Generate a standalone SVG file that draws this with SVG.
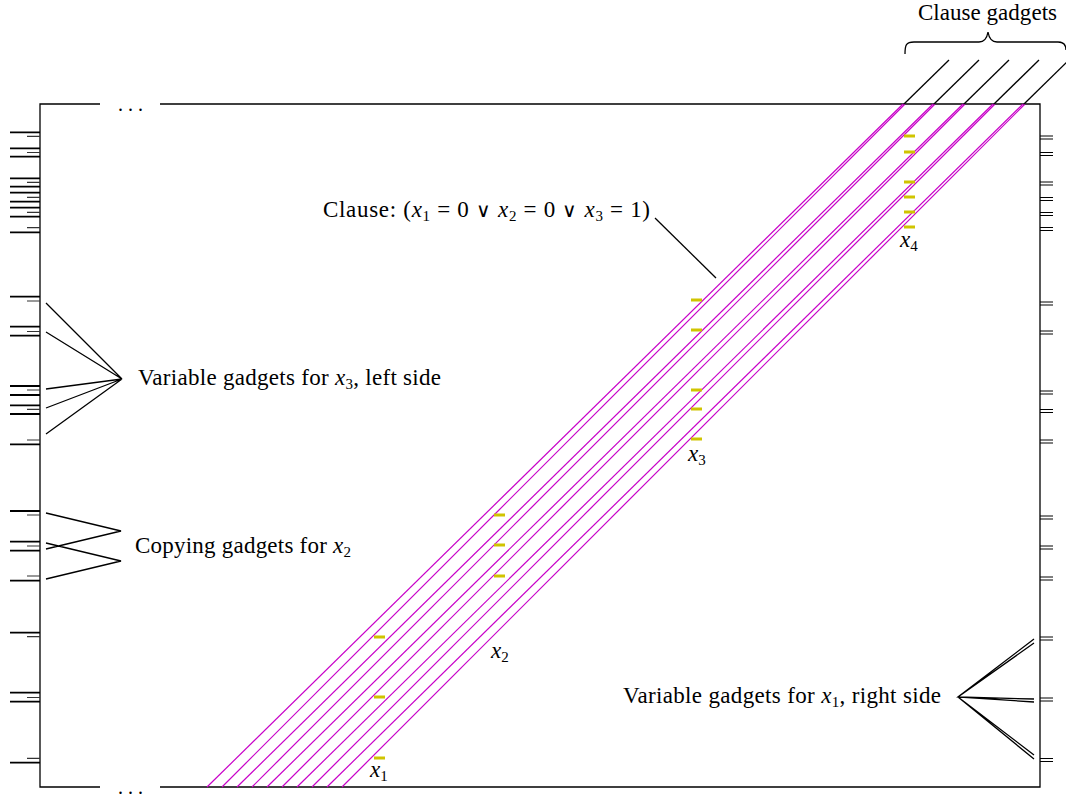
<svg xmlns="http://www.w3.org/2000/svg" width="1066" height="796" viewBox="0 0 1066 796">
<style>
.t{font-family:"Liberation Serif","DejaVu Serif",serif;font-size:23px;fill:#000}
.i{font-style:italic}
.s{font-size:15px}
.v{font-family:"DejaVu Sans ExtraLight","DejaVu Sans",sans-serif;font-weight:200;font-size:20px}
.box{fill:none;stroke:#000;stroke-width:1.3}
.blk{stroke:#000;stroke-width:1.3;fill:none}
.lt{stroke:#000;stroke-width:1.8}
.st{stroke:#333;stroke-width:1.2}
.rt{stroke:#000;stroke-width:1}
.mag{stroke:#c800c8;stroke-width:1.2;fill:none}
.yel{stroke:#d0c400;stroke-width:3}
</style>
<rect width="1066" height="796" fill="#fff"/>
<g id="frame">
<path class="box" d="M100,104 H40 V787 H100 M160,787 H1040 V104 H160"/>
<text class="t" x="118" y="111" style="font-size:20px">. . .</text>
<text class="t" x="118" y="794" style="font-size:20px">. . .</text>
</g>
<g id="connectors">
<g id="magenta-lines">
<path class="mag" d="M207,787 L903,104"/>
<path class="mag" d="M222,787 L905,104"/>
<path class="mag" d="M237,787 L933,104"/>
<path class="mag" d="M252,787 L935,104"/>
<path class="mag" d="M267,787 L963,104"/>
<path class="mag" d="M282,787 L965,104"/>
<path class="mag" d="M297,787 L993,104"/>
<path class="mag" d="M312,787 L995,104"/>
<path class="mag" d="M327,787 L1023,104"/>
<path class="mag" d="M342,787 L1025,104"/>
</g>
<g id="clause-gadget-lines">
<path class="blk" d="M904,104 L949,60"/>
<path class="blk" d="M934,104 L979,60"/>
<path class="blk" d="M964,104 L1009,60"/>
<path class="blk" d="M994,104 L1039,60"/>
<path class="blk" d="M1024,104 L1069,60"/>
</g>
<path class="blk" d="M905,54 C905,45 906,42 914,42 H979 C985,42 987,38 988,32 C989,38 991,42 997,42 H1058 C1064,42 1066,46 1066,50"/>
<path class="blk" d="M655,218 L716,278"/>
<g id="fan-x3">
<path class="blk" d="M46,303 L122,379 M46,332 L122,379 M46,389 L122,379 M46,408 L122,379 M46,434 L122,379"/>
</g>
<g id="fan-x2">
<path class="blk" d="M46,513 L121,531 L46,549 M46,543 L121,561 L46,579"/>
</g>
<g id="fan-x1">
<path class="blk" d="M1034,639 L958,697 L1034,699 M1034,643 L958,697 L1034,702 M958,697 L1034,755 M958,697 L1034,759"/>
</g>
</g>
<g id="left-ticks">
<path class="lt" d="M10,132.3H40 M10,148.3H40 M10,156.7H40 M10,178.3H40 M10,186.7H40 M10,192.7H40 M10,201.7H40 M10,207.7H40 M10,216.7H40 M10,232.3H40
M10,296.7H40 M10,326.7H40 M10,335.7H40 M10,386H40 M10,395H40 M10,405.3H40 M10,414H40 M10,444.3H40
M10,511H40 M10,541.7H40 M10,550.7H40 M10,580.7H40
M10,632.7H40 M10,692.7H40 M10,701.7H40 M10,762.7H40"/>
<path class="st" d="M27,136.3H40 M27,152.5H40 M27,182.3H40 M27,197.3H40 M27,212.3H40 M27,227.7H40
M27,301H40 M27,331.5H40 M27,390H40 M27,409.3H40 M27,440H40
M27,515H40 M27,546H40 M27,576H40
M27,636.7H40 M27,697.5H40 M27,758.3H40"/>
</g>
<g id="right-ticks">
<path class="rt" d="M1040,136H1053 M1040,139H1053 M1040,152.5H1053 M1040,155.5H1053 M1040,182H1053 M1040,185H1053 M1040,197.5H1053 M1040,200.5H1053 M1040,212.5H1053 M1040,215.5H1053 M1040,227.5H1053 M1040,230.5H1053
M1040,302H1053 M1040,305H1053 M1040,331H1053 M1040,334H1053 M1040,391H1053 M1040,394H1053 M1040,409.5H1053 M1040,412.5H1053 M1040,440H1053 M1040,443H1053
M1040,516H1053 M1040,519H1053 M1040,546H1053 M1040,549H1053 M1040,577H1053 M1040,580H1053
M1040,637H1053 M1040,640H1053 M1040,698H1053 M1040,701H1053 M1040,758.5H1053 M1040,761.5H1053"/>
</g>
<g id="yellow-marks">
<path class="yel" d="M904,136H915 M904,152H915 M904,182H915 M904,197H915 M904,212H915 M904,227H915
M691,300H702 M691,330H702 M691,390H702 M691,409H702 M691,439H702
M494,515H505 M494,545H505 M494,576H505
M374,637H385 M374,697H385 M374,758H385"/>
</g>
<g id="labels">
<text class="t" x="918" y="20" textLength="139" lengthAdjust="spacing">Clause gadgets</text>
<text class="t" x="323" y="217" textLength="327" lengthAdjust="spacing">Clause: (<tspan class="i">x</tspan><tspan class="s" dy="4">1</tspan><tspan dy="-4"> = 0 </tspan><tspan class="v">∨</tspan><tspan> </tspan><tspan class="i">x</tspan><tspan class="s" dy="4">2</tspan><tspan dy="-4"> = 0 </tspan><tspan class="v">∨</tspan><tspan> </tspan><tspan class="i">x</tspan><tspan class="s" dy="4">3</tspan><tspan dy="-4"> = 1)</tspan></text>
<text class="t" x="138" y="385" textLength="303" lengthAdjust="spacing">Variable gadgets for <tspan class="i">x</tspan><tspan class="s" dy="4">3</tspan><tspan dy="-4">, left side</tspan></text>
<text class="t" x="135" y="553" textLength="216" lengthAdjust="spacing">Copying gadgets for <tspan class="i">x</tspan><tspan class="s" dy="4">2</tspan></text>
<text class="t" x="623" y="703" textLength="318" lengthAdjust="spacing">Variable gadgets for <tspan class="i">x</tspan><tspan class="s" dy="4">1</tspan><tspan dy="-4">, right side</tspan></text>
<text class="t" x="370" y="777"><tspan class="i">x</tspan><tspan class="s" dy="4">1</tspan></text>
<text class="t" x="491" y="658"><tspan class="i">x</tspan><tspan class="s" dy="4">2</tspan></text>
<text class="t" x="688" y="461"><tspan class="i">x</tspan><tspan class="s" dy="4">3</tspan></text>
<text class="t" x="900" y="247"><tspan class="i">x</tspan><tspan class="s" dy="4">4</tspan></text>
</g>
</svg>
